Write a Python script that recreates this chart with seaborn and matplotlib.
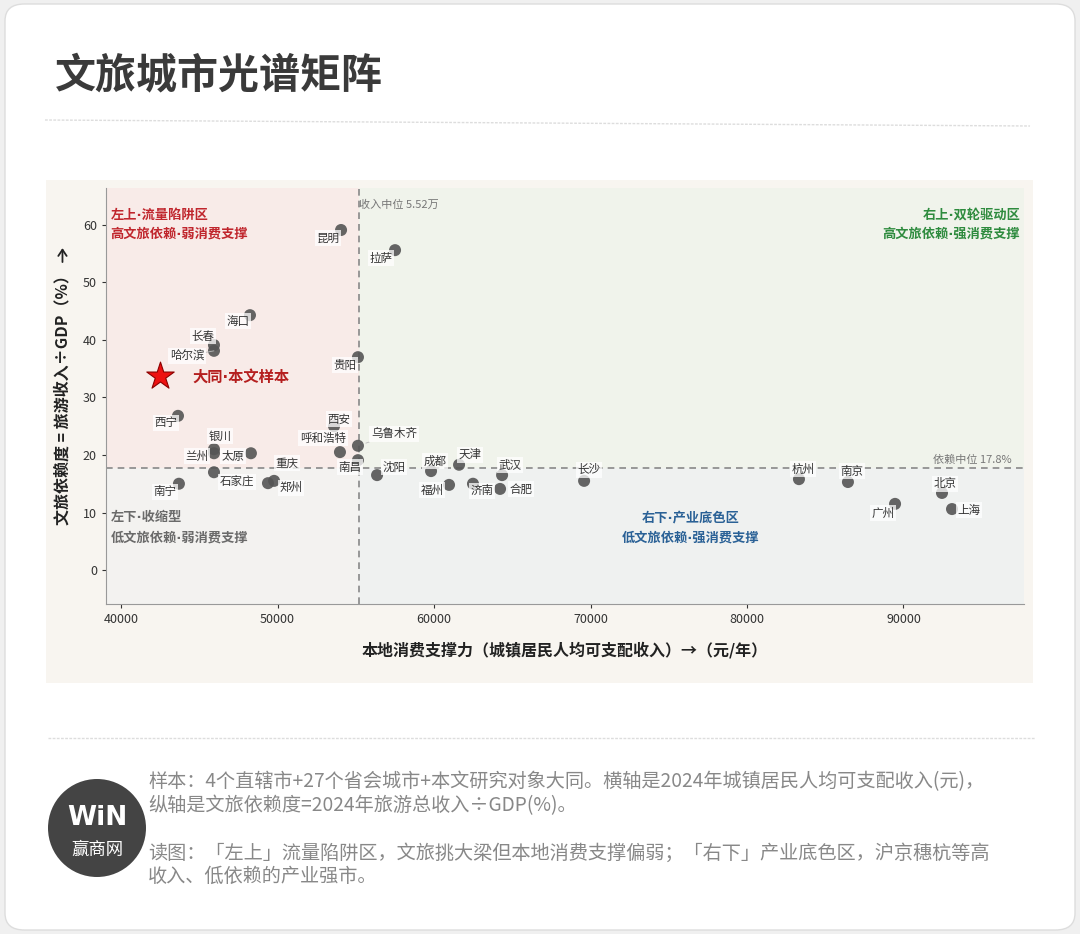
import numpy as np
import pandas as pd
import matplotlib
matplotlib.use("Agg")
import matplotlib.pyplot as plt
import seaborn as sns
from matplotlib.patches import Rectangle, FancyBboxPatch, Circle, FancyArrowPatch
from matplotlib.lines import Line2D

sns.set_style("white")
plt.rcParams["font.family"] = ["Noto Sans CJK SC", "DejaVu Sans"]
plt.rcParams["axes.unicode_minus"] = False

# data
cities = ["昆明", "拉萨", "海口", "长春", "哈尔滨", "贵阳", "西宁", "银川", "兰州", "太原",
          "石家庄", "南宁", "郑州", "重庆", "呼和浩特", "西安", "乌鲁木齐", "南昌", "沈阳", "成都",
          "福州", "天津", "济南", "武汉", "合肥", "长沙", "杭州", "南京", "北京", "广州", "上海"]
income = [54060, 57510, 48240, 45940, 45940, 55140, 43640, 45940, 45940, 48300,
          45940, 43700, 49780, 49390, 53990, 53610, 55140, 55140, 56360, 59810,
          60960, 61600, 62490, 64350, 64220, 69590, 83320, 86450, 92460, 89460, 93100]
ratio = [59.1, 55.6, 44.3, 39.1, 38.1, 37.0, 26.8, 21.0, 20.3, 20.3,
         17.0, 15.0, 15.5, 15.1, 20.5, 25.0, 21.6, 19.1, 16.5, 17.2,
         14.8, 18.3, 15.0, 16.5, 14.1, 15.5, 15.8, 15.3, 13.4, 11.5, 10.6]
datong_income = 42490
datong_ratio = 33.7
income_median = 55200
ratio_median = 17.8

# label offsets in pixels (dx, dy)
label_offsets = {
    "昆明": (-13, -8), "拉萨": (-14, -8), "海口": (-12, -6), "长春": (-11, 9),
    "哈尔滨": (-27, -5), "贵阳": (-13, -8), "西宁": (-12, -7), "银川": (6, 13),
    "兰州": (-17, -3), "太原": (-18, -3), "石家庄": (23, -10), "南宁": (-14, -8),
    "重庆": (19, 20), "郑州": (17, -7), "呼和浩特": (-17, 14), "西安": (5, 7),
    "乌鲁木齐": (36, 12), "南昌": (-8, -7), "沈阳": (17, 8), "成都": (4, 10),
    "福州": (-17, -5), "天津": (11, 10), "济南": (9, -7), "武汉": (8, 10),
    "合肥": (21, 0), "长沙": (5, 11), "杭州": (4, 10), "南京": (4, 11),
    "北京": (3, 9), "广州": (-12, -9), "上海": (17, -1),
}
leader = {"哈尔滨", "乌鲁木齐"}

df = pd.DataFrame({"city": cities, "income": income, "ratio": ratio})

W, H = 1080, 934
fig = plt.figure(figsize=(W / 100, H / 100), dpi=100)
fig.patch.set_facecolor("#f0f0f0")

# narrow middle dot comes from DejaVu
dot_font = ["DejaVu Sans", "Noto Sans CJK SC"]


def fx(px):
    return px / W


def fy(py):
    return 1 - py / H


# white card
card = FancyBboxPatch((fx(5), fy(930)), fx(1070), 926 / H,
                      boxstyle="round,pad=0,rounding_size=0.018",
                      transform=fig.transFigure, facecolor="white",
                      edgecolor="#dddddd", linewidth=1, zorder=-3)
fig.patches.append(card)

# title + separators
fig.text(fx(55), fy(75), "文旅城市光谱矩阵", fontsize=29.5, fontweight="heavy",
         color="#3a3a3a", va="center", ha="left")
fig.add_artist(Line2D([fx(45), fx(1030)], [fy(120), fy(126)], transform=fig.transFigure,
                      color="#dddddd", lw=1, ls=(0, (2, 1)), zorder=-1))
fig.add_artist(Line2D([fx(48), fx(1035)], [fy(738), fy(738)], transform=fig.transFigure,
                      color="#dddddd", lw=1, ls=(0, (2, 1)), zorder=-1))

# beige panel behind the chart
panel = Rectangle((fx(46), fy(683)), fx(987), 503 / H, transform=fig.transFigure,
                  facecolor="#f8f5f0", edgecolor="none", zorder=-2)
fig.patches.append(panel)

ax = fig.add_axes([fx(106), fy(604), fx(918), 416 / H])
ax.set_facecolor("none")
xmin, xmax = 39040, 97700
ymin, ymax = -5.9, 66.4
ax.set_xlim(xmin, xmax)
ax.set_ylim(ymin, ymax)

# quadrant fills
ax.add_patch(Rectangle((xmin, ratio_median), income_median - xmin, ymax - ratio_median,
                       facecolor="#f8ebe8", edgecolor="none", zorder=0))
ax.add_patch(Rectangle((income_median, ratio_median), xmax - income_median, ymax - ratio_median,
                       facecolor="#f0f3eb", edgecolor="none", zorder=0))
ax.add_patch(Rectangle((xmin, ymin), income_median - xmin, ratio_median - ymin,
                       facecolor="#f3f2f0", edgecolor="none", zorder=0))
ax.add_patch(Rectangle((income_median, ymin), xmax - income_median, ratio_median - ymin,
                       facecolor="#eff1f0", edgecolor="none", zorder=0))

ax.axvline(income_median, color="#888888", lw=1.2, ls=(0, (4, 3)), zorder=1)
ax.axhline(ratio_median, color="#888888", lw=1.2, ls=(0, (4, 3)), zorder=1)
ax.text(income_median, 63.5, "收入中位 5.52万", fontsize=8, color="#777777",
        ha="left", va="center")
ax.text(xmax - 800, ratio_median + 0.4, "依赖中位 17.8%", fontsize=8, color="#777777",
        ha="right", va="bottom")

# points
sns.scatterplot(data=df, x="income", y="ratio", ax=ax, color="#555555", s=75,
                alpha=0.9, edgecolor="none", legend=False, zorder=3)

for c, x, y in zip(cities, income, ratio):
    dx, dy = label_offsets[c]
    kw = {}
    if c in leader:
        kw["arrowprops"] = dict(arrowstyle="-", color="#bbbbbb", lw=0.6, shrinkA=0, shrinkB=6)
    ax.annotate(c, (x, y), xytext=(dx, dy), textcoords="offset pixels",
                ha="center", va="center", fontsize=8.3, color="#333333", zorder=4,
                bbox=dict(boxstyle="square,pad=0.15", facecolor="white",
                          edgecolor="none", alpha=0.75), **kw)

# Datong star
ax.scatter([datong_income], [datong_ratio], marker="*", s=430, color="#ee1111",
           edgecolor="#8b0000", linewidth=0.8, zorder=5)
ax.annotate("大同·本文样本", (datong_income, datong_ratio), xytext=(32, -1),
            textcoords="offset pixels", ha="left", va="center", fontsize=11,
            fontweight="bold", color="#b51f1f", zorder=5, family=dot_font)

# quadrant notes
quad = [
    (0.005, "left", "#c0262d", "左上·流量陷阱区", "高文旅依赖·弱消费支撑", 0.935, 0.889),
    (0.996, "right", "#2e8b3e", "右上·双轮驱动区", "高文旅依赖·强消费支撑", 0.935, 0.889),
    (0.005, "left", "#6a6a6a", "左下·收缩型", "低文旅依赖·弱消费支撑", 0.207, 0.159),
    (0.637, "center", "#2a6196", "右下·产业底色区", "低文旅依赖·强消费支撑", 0.207, 0.159),
]
for qx, ha, col, t1, t2, y1, y2 in quad:
    ax.text(qx, y1, t1, transform=ax.transAxes, fontsize=9.5, fontweight="bold",
            color=col, ha=ha, va="center", family=dot_font)
    ax.text(qx, y2, t2, transform=ax.transAxes, fontsize=9.5, fontweight="bold",
            color=col, ha=ha, va="center", family=dot_font)

# axes styling
ax.set_xticks([40000, 50000, 60000, 70000, 80000, 90000])
ax.set_yticks([0, 10, 20, 30, 40, 50, 60])
ax.tick_params(axis="both", labelsize=9, colors="#333333", length=3, width=0.8,
               direction="out", left=True, bottom=True)
for s in ["top", "right"]:
    ax.spines[s].set_visible(False)
for s in ["left", "bottom"]:
    ax.spines[s].set_color("#999999")
    ax.spines[s].set_linewidth(0.8)
ax.set_xlabel("本地消费支撑力（城镇居民人均可支配收入）→（元/年）", fontsize=11.5,
              fontweight="bold", color="#222222", labelpad=11)
ax.set_ylabel("文旅依赖度 = 旅游收入÷GDP（%）", fontsize=11.5,
              fontweight="bold", color="#222222", labelpad=9)

# up-arrow on top of the y label
fig.canvas.draw()
bb = ax.yaxis.label.get_window_extent(fig.canvas.get_renderer())
xc = (bb.x0 + bb.x1) / 2 / W
fig.add_artist(FancyArrowPatch(
    (xc, (bb.y1 + 5) / H), (xc, (bb.y1 + 19) / H), transform=fig.transFigure,
    arrowstyle="->,head_length=0.45,head_width=0.3", color="#222222", lw=1.3,
    mutation_scale=10, shrinkA=0, shrinkB=0))

# footer logo
logo_ax = fig.add_axes([fx(47), fy(878), fx(100), 100 / H])
logo_ax.set_xlim(0, 1)
logo_ax.set_ylim(0, 1)
logo_ax.set_aspect("equal")
logo_ax.axis("off")
logo_ax.add_patch(Circle((0.5, 0.5), 0.49, facecolor="#444444", edgecolor="none"))
logo_ax.text(0.5, 0.6, "WiN", color="white", fontsize=19, fontweight="heavy",
             ha="center", va="center", family=["DejaVu Sans"])
logo_ax.text(0.5, 0.28, "赢商网", color="white", fontsize=12.5, ha="center", va="center")

foot = "#888888"
fig.text(fx(148), fy(782), "样本：4个直辖市+27个省会城市+本文研究对象大同。横轴是2024年城镇居民人均可支配收入(元)，",
         fontsize=13.8, color=foot, ha="left", va="center")
fig.text(fx(148), fy(806), "纵轴是文旅依赖度=2024年旅游总收入÷GDP(%)。",
         fontsize=13.8, color=foot, ha="left", va="center")
fig.text(fx(148), fy(853), "读图：「左上」流量陷阱区，文旅挑大梁但本地消费支撑偏弱；「右下」产业底色区，沪京穗杭等高",
         fontsize=13.8, color=foot, ha="left", va="center")
fig.text(fx(148), fy(876), "收入、低依赖的产业强市。",
         fontsize=13.8, color=foot, ha="left", va="center")

fig.savefig("out.png", dpi=100, facecolor=fig.get_facecolor())
